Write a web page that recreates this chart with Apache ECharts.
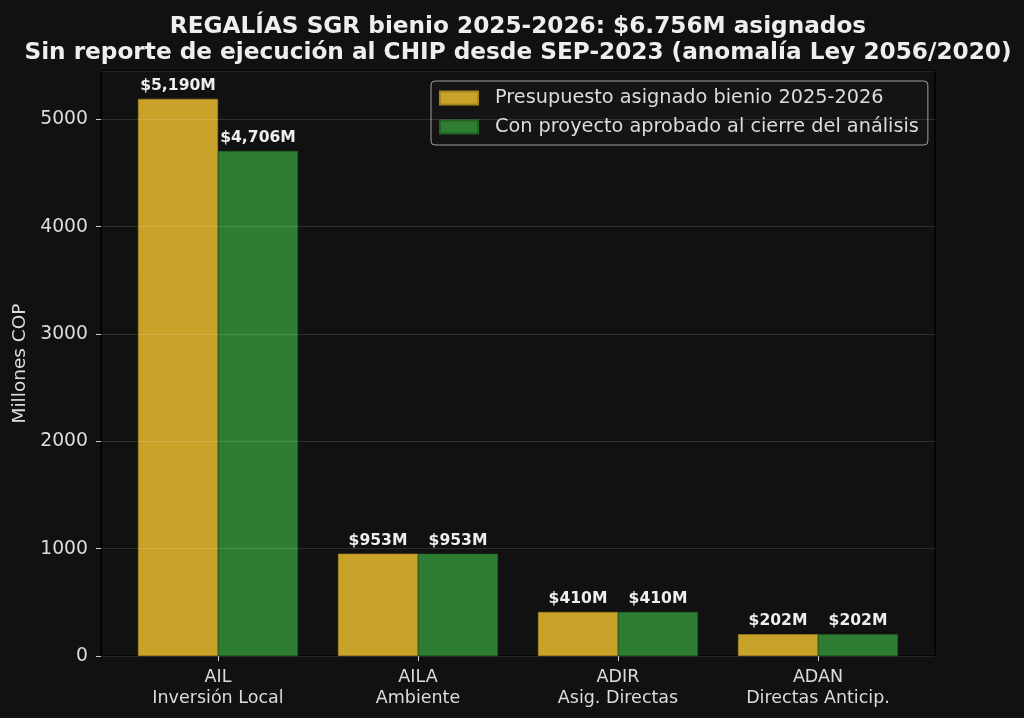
<!DOCTYPE html>
<html>
<head>
<meta charset="utf-8">
<script src="https://cdn.jsdelivr.net/npm/echarts@6/dist/echarts.min.js"></script>
<style>
  html, body { margin: 0; padding: 0; background: #111111; }
  #chart { width: 1024px; height: 718px; }
</style>
</head>
<body>
<div id="chart"></div>
<script>
// data
var categories = ['AIL\nInversión Local', 'AILA\nAmbiente', 'ADIR\nAsig. Directas', 'ADAN\nDirectas Anticip.'];
var asignado = [5190, 953, 410, 202];
var aprobado = [4706, 953, 410, 202];
var seriesNames = ['Presupuesto asignado bienio 2025-2026', 'Con proyecto aprobado al cierre del análisis'];
var yTicks = [0, 1000, 2000, 3000, 4000, 5000];
var yMax = 5450;

var textColor = '#dcdcdc';
var font = 'DejaVu Sans';

function money(v) {
    return '$' + v.toLocaleString('en-US') + 'M';
}

var chart = echarts.init(document.getElementById('chart'));

var labelStyle = {
    show: true,
    position: 'top',
    distance: 5,
    color: '#eeeeee',
    fontFamily: font,
    fontWeight: 'bold',
    fontSize: 15.6,
    formatter: function (p) { return money(p.value); }
};

var options = {
    backgroundColor: '#111111',
    animation: false,
    title: {
        text: 'REGALÍAS SGR bienio 2025-2026: $6.756M asignados\nSin reporte de ejecución al CHIP desde SEP-2023 (anomalía Ley 2056/2020)',
        left: 513,
        textAlign: 'center',
        top: 9,
        textStyle: {
            color: '#eeeeee',
            fontFamily: font,
            fontWeight: 'bold',
            fontSize: 23.2,
            lineHeight: 26
        }
    },
    legend: {
        orient: 'vertical',
        left: 431,
        top: 81,
        padding: [6, 9, 7, 8],
        itemWidth: 38,
        itemHeight: 13,
        itemGap: 7,
        icon: 'rect',
        backgroundColor: '#141414',
        borderColor: '#a0a0a0',
        borderWidth: 1,
        borderRadius: 4,
        textStyle: { color: textColor, fontFamily: font, fontSize: 19.3, padding: [0, 0, 0, 12], lineHeight: 22 },
        data: seriesNames
    },
    grid: [
        // bars
        { left: 118, right: 106, top: 71, bottom: 62 },
        // frame + grid lines
        { left: 101, right: 89, top: 71, bottom: 62, show: true, borderColor: '#000000', borderWidth: 1.5, backgroundColor: 'transparent' }
    ],
    xAxis: [
        {
            type: 'category',
            gridIndex: 0,
            data: categories,
            axisLine: { show: false },
            axisTick: { show: true, alignWithLabel: true, length: 5, lineStyle: { color: '#cccccc' } },
            axisLabel: { color: textColor, fontFamily: font, fontSize: 17.5, lineHeight: 21, margin: 11 }
        },
        {
            type: 'value',
            gridIndex: 1,
            show: false
        }
    ],
    yAxis: [
        {
            type: 'value',
            gridIndex: 0,
            min: 0,
            max: yMax,
            show: false
        },
        {
            type: 'value',
            gridIndex: 1,
            min: 0,
            max: yMax,
            interval: 1000,
            z: 5,
            name: 'Millones COP',
            nameLocation: 'middle',
            nameGap: 70,
            nameTextStyle: { color: textColor, fontFamily: font, fontSize: 18.5 },
            axisLine: { show: false },
            axisTick: { show: true, length: 5, lineStyle: { color: '#cccccc' } },
            axisLabel: {
                color: textColor, fontFamily: font, fontSize: 18.8, margin: 13,
                showMaxLabel: false,
                formatter: function (v) { return yTicks.indexOf(v) >= 0 ? String(v) : ''; }
            },
            splitLine: { show: true, lineStyle: { color: 'rgba(255,255,255,0.13)', width: 1 } }
        }
    ],
    series: [
        {
            name: seriesNames[0],
            type: 'bar',
            xAxisIndex: 0,
            yAxisIndex: 0,
            data: asignado,
            barWidth: 80,
            barGap: '0%',
            itemStyle: { color: '#c9a22a', borderColor: '#a8871f', borderWidth: 0.6 },
            label: labelStyle
        },
        {
            name: seriesNames[1],
            type: 'bar',
            xAxisIndex: 0,
            yAxisIndex: 0,
            data: aprobado,
            barWidth: 80,
            barGap: '0%',
            itemStyle: { color: '#2e7d32', borderColor: '#236226', borderWidth: 0.6 },
            label: labelStyle
        }
    ]
};

chart.setOption(options);
window.onresize = function () {
    chart.resize();
};
</script>
</body>
</html>
